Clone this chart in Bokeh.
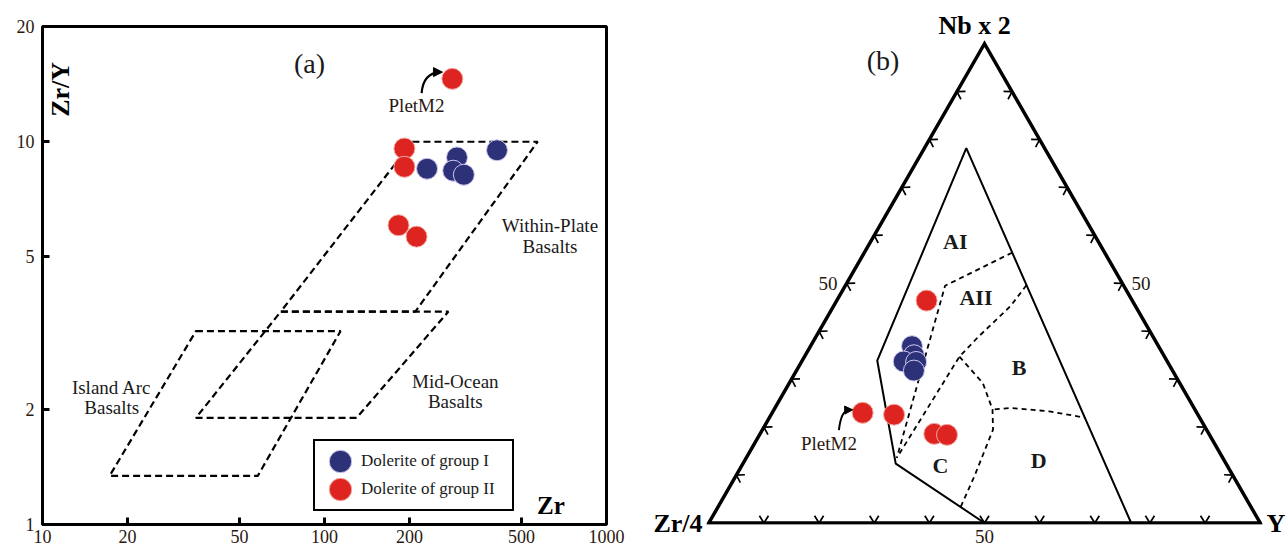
import math
from bokeh.plotting import figure
from bokeh.models import (Range1d, FixedTicker, PrintfTickFormatter, Label, Legend,
                          LegendItem, ColumnDataSource, Arrow, NormalHead, LinearAxis)
from bokeh.layouts import row
from bokeh.core.properties import value
from bokeh.embed import file_html
from bokeh.resources import INLINE

SERIF = "Liberation Serif"
TXT = "#2a1810"

# ---------------- Panel (a): Zr vs Zr/Y (log-log) ----------------
x_ticks = [10, 20, 50, 100, 200, 500, 1000]
y_ticks = [1, 2, 5, 10, 20]

g1_zr = [231, 295, 286, 312, 409]          # Dolerite of group I
g1_zry = [8.5, 9.1, 8.4, 8.2, 9.5]
g2_zr = [284, 192, 192, 183, 212]          # Dolerite of group II (first = PletM2)
g2_zry = [14.6, 9.6, 8.6, 6.05, 5.65]

wpb_zr = [205, 570, 210, 70]               # Within-Plate Basalts field
wpb_zry = [10, 10, 3.6, 3.6]
morb_zr = [70, 275, 130, 35]               # Mid-Ocean Basalts field
morb_zry = [3.6, 3.6, 1.9, 1.9]
iab_zr = [35, 114, 58, 17.3]               # Island Arc Basalts field
iab_zry = [3.2, 3.2, 1.34, 1.34]

# ---------------- Panel (b): Nb*2 - Zr/4 - Y ternary (%) ----------------
t1_nb = [36.9, 35.0, 33.7, 33.6, 31.8]     # group I
t1_zr = [44.7, 45.3, 47.8, 45.6, 46.9]
t1_y = [18.4, 19.7, 18.5, 20.8, 21.3]
t2_nb = [46.4, 23.0, 22.6, 18.6, 18.4]     # group II (second = PletM2)
t2_zr = [37.3, 60.6, 55.1, 49.8, 47.6]
t2_y = [16.3, 16.4, 22.3, 31.6, 34.0]

outer_nb = [0, 12.4, 33.9, 78.2, 0]        # solid field outline
outer_y = [50, 27.7, 13.6, 7.6, 76.6]
d1_nb = [56.4, 49.5, 13.6]                 # AI / AII
d1_y = [26.8, 18.1, 27.3]
d2_nb = [49.6, 45.3, 38.7, 34.7, 13.6]     # AII / B, AII / C
d2_y = [32.8, 32.1, 29.4, 28.1, 27.3]
d3_nb = [34.7, 29.2, 23.7, 19.5, 9.7, 3.3]  # B / C, C / D
d3_y = [28.1, 35.1, 39.6, 41.8, 43.3, 44.0]
d4_nb = [23.7, 24.0, 23.3, 22.0]           # B / D
d4_y = [40.0, 42.7, 50.1, 57.1]

field_labels = ["AI", "AII", "B", "C", "D"]
field_nb = [58.8, 47.1, 32.5, 12.0, 13.1]
field_y = [15.3, 24.9, 40.0, 36.0, 53.3]

apex_labels = ["Nb x 2", "Zr/4", "Y"]
tern_ticks = [10, 20, 30, 40, 50, 60, 70, 80, 90]

H = math.sqrt(3) / 2


def tern(nb, zr, y):
    tot = nb + zr + y
    return 100.0 * (y + nb / 2.0) / tot, 100.0 * nb * H / tot


def tern_list(nbs, ys):
    pts = [tern(a, 100 - a - c, c) for a, c in zip(nbs, ys)]
    return [p[0] for p in pts], [p[1] for p in pts]


# ======================= Figure (a) =======================
pa = figure(width=640, height=551, x_axis_type="log", y_axis_type="log",
            x_range=Range1d(10, 1000), y_range=Range1d(1, 20), title=None,
            output_backend="svg", toolbar_location=None,
            min_border_left=42, min_border_right=34, min_border_top=26,
            min_border_bottom=27)
pa.grid.grid_line_color = None
pa.outline_line_color = "black"
pa.outline_line_width = 3
pa.background_fill_color = "white"
pa.border_fill_color = "white"

pa.xaxis.ticker = FixedTicker(ticks=x_ticks)
pa.yaxis.ticker = FixedTicker(ticks=y_ticks)
for ax in (pa.xaxis[0], pa.yaxis[0]):
    ax.formatter = PrintfTickFormatter(format="%d")
    ax.axis_line_color = None
    ax.major_tick_in = 7
    ax.major_tick_out = 0
    ax.major_tick_line_width = 3
    ax.major_tick_line_color = "black"
    ax.minor_tick_line_color = None
    ax.major_label_text_font = SERIF
    ax.major_label_text_font_size = "18px"
    ax.major_label_text_color = TXT
pa.xaxis.major_label_standoff = 5
pa.yaxis.major_label_standoff = 8

# discrimination fields
pa.patches(xs=[wpb_zr, morb_zr, iab_zr], ys=[wpb_zry, morb_zry, iab_zry],
           fill_color=None, line_color="black", line_width=2.2, line_dash="7 4")

src1 = ColumnDataSource(dict(x=g1_zr, y=g1_zry))
src2 = ColumnDataSource(dict(x=g2_zr, y=g2_zry))
ra1 = pa.ellipse(x="x", y="y", width=21, height=21, width_units="screen",
                 height_units="screen", source=src1, fill_color="#2d3278",
                 line_color="#cfc8f0", line_width=1)
ra2 = pa.ellipse(x="x", y="y", width=21, height=21, width_units="screen",
                 height_units="screen", source=src2, fill_color="#dd2420",
                 line_color="#f3a8a0", line_width=1)

legend = Legend(items=[LegendItem(label="Dolerite of group I", renderers=[ra1]),
                       LegendItem(label="Dolerite of group II", renderers=[ra2])],
                location=(271, 13), padding=6, spacing=0, margin=0,
                glyph_width=38, glyph_height=28, label_height=28,
                label_width=145, label_standoff=2,
                label_text_font=SERIF, label_text_font_size="17px",
                label_text_color="#1a1a1a", border_line_color="black",
                border_line_width=2, border_line_alpha=1,
                background_fill_color="white", background_fill_alpha=1)
pa.add_layout(legend)


def lab(p, x, y, text, size, bold=False, align="center", angle=0, color="#1a1a1a"):
    p.add_layout(Label(x=x, y=y, text=text, text_font=SERIF, text_font_size=size,
                       text_font_style="bold" if bold else "normal",
                       text_align=align, text_baseline="middle", angle=angle,
                       angle_units="deg", text_color=color))


lab(pa, 88.5, 16.0, "(a)", "28px")
lab(pa, 11.6, 13.7, "Zr/Y", "26px", bold=True, angle=90, color="black")
lab(pa, 635, 1.12, "Zr", "25px", bold=True, color="black")
lab(pa, 630, 6.05, "Within-Plate", "19px")
lab(pa, 630, 5.32, "Basalts", "19px")
lab(pa, 291, 2.37, "Mid-Ocean", "19px")
lab(pa, 291, 2.09, "Basalts", "19px")
lab(pa, 17.6, 2.28, "Island Arc", "19px")
lab(pa, 17.6, 2.02, "Basalts", "19px")
lab(pa, 212, 12.4, "PletM2", "19px", color=TXT)

pa.quadratic(x0=[221], y0=[13.4], cx=[224], cy=[15.1], x1=[256], y1=[15.2],
             line_color="black", line_width=2.2)
pa.add_layout(Arrow(end=NormalHead(size=9, fill_color="black", line_color="black"),
                    x_start=236, y_start=15.2, x_end=262, y_end=15.2,
                    line_color=None))

# ======================= Figure (b) =======================
S = 5.534                      # px per ternary unit (side = 100)
FL, FR, FT, FB = 66, 24, 26, 27
fw = 648 - FL - FR
fh = 551 - FT - FB
xs0 = (FL - 68.3) / S
ye = (522.5 - FT) / S
pb = figure(width=648, height=551, title=None,
            x_range=Range1d(xs0, xs0 + fw / S),
            y_range=Range1d(ye - fh / S, ye),
            output_backend="svg", toolbar_location=None,
            min_border_left=FL, min_border_right=FR, min_border_top=FT,
            min_border_bottom=FB)
pb.add_layout(LinearAxis(), "above")
pb.add_layout(LinearAxis(), "right")
pb.grid.grid_line_color = None
pb.outline_line_color = None
pb.background_fill_color = "white"
pb.border_fill_color = "white"

# corner names and bottom-edge "50" placed through the plot's own axes
top_ax = pb.above[0]
bot_ax = pb.below[0]
left_ax = pb.left[0]
right_ax = pb.right[0]
nb_pos = 48.2
top_ax.ticker = FixedTicker(ticks=[nb_pos])
top_ax.major_label_overrides = {nb_pos: apex_labels[0]}
left_ax.ticker = FixedTicker(ticks=[0])
left_ax.major_label_overrides = {0: apex_labels[1]}
right_ax.ticker = FixedTicker(ticks=[0])
right_ax.major_label_overrides = {0: apex_labels[2]}
bot_ax.ticker = FixedTicker(ticks=[50])
bot_ax.major_label_overrides = {50: "50"}
for ax in (top_ax, bot_ax, left_ax, right_ax):
    ax.axis_line_color = None
    ax.major_tick_line_color = None
    ax.minor_tick_line_color = None
    ax.major_tick_in = 0
    ax.major_tick_out = 0
    ax.major_label_text_font = SERIF
for ax in (top_ax, left_ax, right_ax):
    ax.major_label_text_font_size = "26px"
    ax.major_label_text_font_style = "bold"
    ax.major_label_text_color = "black"
bot_ax.major_label_text_font_size = "19px"
bot_ax.major_label_text_color = TXT
top_ax.major_label_standoff = -13
left_ax.major_label_standoff = 4
right_ax.major_label_standoff = 4
bot_ax.major_label_standoff = 5

# triangle frame
cx_, cy_ = zip(tern(0, 100, 0), tern(0, 0, 100), tern(100, 0, 0))
pb.patch(x=list(cx_), y=list(cy_), fill_color=None, line_color="black",
         line_width=3.5, line_join="miter")

# tick chevrons
L = 1.55
th = math.radians(32)
txs, tys = [], []
for f in tern_ticks:
    for (px, py), (nx, ny) in (
            (tern(0, 100 - f, f), (0.0, 1.0)),
            (tern(f, 100 - f, 0), (H, -0.5)),
            (tern(f, 0, 100 - f), (-H, -0.5))):
        a1 = (nx * math.cos(th) - ny * math.sin(th), nx * math.sin(th) + ny * math.cos(th))
        a2 = (nx * math.cos(-th) - ny * math.sin(-th), nx * math.sin(-th) + ny * math.cos(-th))
        txs.append([px + L * a1[0], px, px + L * a2[0]])
        tys.append([py + L * a1[1], py, py + L * a2[1]])
pb.multi_line(xs=txs, ys=tys, line_color="black", line_width=1.7)

# fields
ox, oy = tern_list(outer_nb, outer_y)
pb.line(ox, oy, line_color="black", line_width=2)
dxs, dys = [], []
for nbs, ys in ((d1_nb, d1_y), (d2_nb, d2_y), (d3_nb, d3_y), (d4_nb, d4_y)):
    xx, yy = tern_list(nbs, ys)
    dxs.append(xx)
    dys.append(yy)
pb.multi_line(xs=dxs, ys=dys, line_color="black", line_width=1.8, line_dash="5 4")

flx, fly = tern_list(field_nb, field_y)
pb.text(x=flx, y=fly, text=field_labels, text_font=value(SERIF),
        text_font_style="bold", text_font_size="22px", text_align="center",
        text_baseline="middle", text_color="#1a1a1a")

# samples
p1 = [tern(a, b, c) for a, b, c in zip(t1_nb, t1_zr, t1_y)]
p2 = [tern(a, b, c) for a, b, c in zip(t2_nb, t2_zr, t2_y)]
pb.ellipse(x=[p[0] for p in p1], y=[p[1] for p in p1], width=21, height=21,
           width_units="screen", height_units="screen", fill_color="#2d3278",
           line_color="#cfc8f0", line_width=1)
pb.ellipse(x=[p[0] for p in p2], y=[p[1] for p in p2], width=21, height=21,
           width_units="screen", height_units="screen", fill_color="#dd2420",
           line_color="#f3a8a0", line_width=1)

# labels inside the frame
lab(pb, 31.6, 83.6, "(b)", "28px")
m_l = tern(50, 50, 0)
m_r = tern(50, 0, 50)
lab(pb, m_l[0] - 3.4, m_l[1], "50", "19px", color=TXT)
lab(pb, m_r[0] + 3.4, m_r[1], "50", "19px", color=TXT)
lab(pb, 21.8, 14.4, "PletM2", "19px", color=TXT)

pb.quadratic(x0=[23.6], y0=[16.8], cx=[24.0], cy=[20.3], x1=[25.4], y1=[20.4],
             line_color="black", line_width=2)
pb.add_layout(Arrow(end=NormalHead(size=8, fill_color="black", line_color="black"),
                    x_start=24.5, y_start=20.4, x_end=26.1, y_end=20.45,
                    line_color=None))

layout = row(pa, pb)
open("out.html", "w").write(file_html(layout, INLINE))
